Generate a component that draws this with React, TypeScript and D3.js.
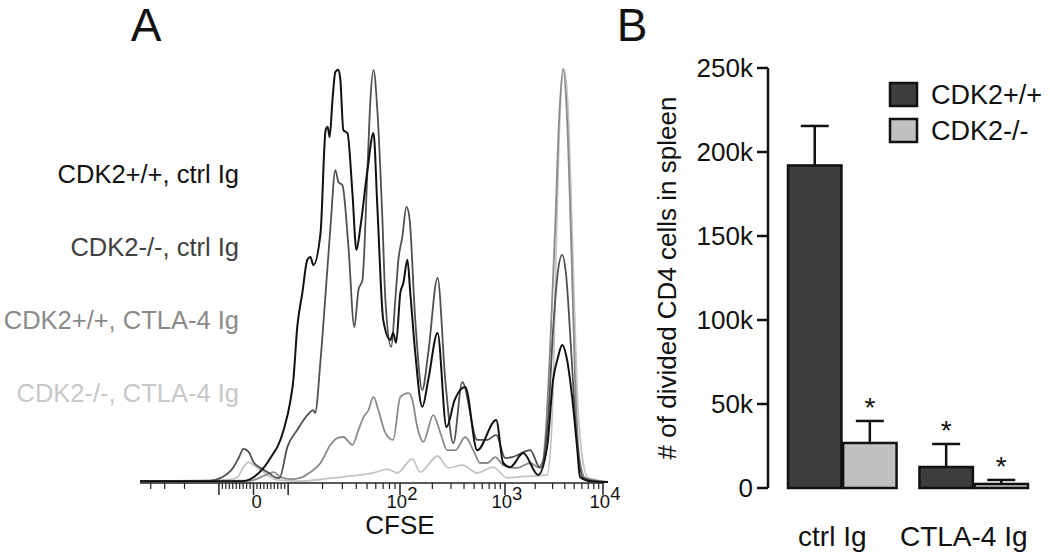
import * as d3 from "d3";
import React from "react";

const FONT = "'Liberation Sans', Arial, Helvetica, sans-serif";

// CFSE histograms: [CFSE intensity, % of max]
const wtCtrl: [number, number][] = [
  [-50, 0.2], [-3, 0.2], [-0.9, 0.7], [2.9, 3.4], [5.8, 7], [6.9, 8.5], [8.7, 12.6], [10.5, 19.9],
  [11.1, 24.7], [12, 37.5], [13.3, 45.8], [14.7, 53.8], [15.65, 54.5], [16.6, 52.5], [19.2, 60.3],
  [21.3, 85.2], [22.2, 86], [23.1, 83.5], [24.5, 92.5], [26, 99.3], [27.7, 99.8], [28.8, 97.3],
  [30.6, 85.2], [33.3, 84.5], [36.9, 70], [40.1, 56.2], [43.5, 61.7], [50.4, 75.5], [57.2, 84.5],
  [62, 66.6], [70.2, 39.2], [81.4, 34.4], [86.5, 36.1], [92, 33.7], [100.7, 45.8], [107.4, 48.2],
  [117, 53.8], [124.5, 45.8], [138.5, 31.2], [161, 18.2], [183, 24.7], [224, 36.1], [272, 13.3],
  [327, 20], [411, 23], [536, 7.7], [820, 15], [962, 4.6], [1125, 3.6], [1517, 7], [2142, 1.7],
  [2637, 8.5], [3034, 24.7], [3413, 30.3], [3753, 33.2], [4225, 29.5], [4754, 20.6], [5353, 8.5],
  [5745, 1.2], [7311, 0.2], [11300, 0],
];

const koCtrl: [number, number][] = [
  [-50, 0.2], [-12, 0.3], [-9.5, 1], [-5.8, 3.6], [-4.3, 5.8], [-2.9, 8], [-1.4, 7.3], [0, 4.8],
  [2, 3.4], [4, 2.4], [6.9, 1], [7.5, 1], [9.8, 8.5], [12, 12.6], [14.7, 16.2], [16.6, 17.4],
  [17.2, 16.7], [19.2, 29.5], [21.3, 45.8], [23.5, 61.7], [26, 75.5], [27.7, 72.6], [30, 71.9],
  [34, 56.9], [38.4, 37.5], [41.8, 46.5], [45.4, 48.9], [50.4, 75.5], [53.6, 92.5], [57.2, 99.8],
  [62, 90], [68.8, 64.2], [73.4, 44.1], [83, 32.7], [90.5, 44.1], [96.6, 53.8], [105, 59.3],
  [114.6, 66.6], [122, 64.2], [138.5, 39.2], [161, 22.3], [183, 31.2], [224, 49.4], [265, 24.7],
  [316, 9.4], [385, 24.2], [536, 10.2], [670, 10.2], [820, 11.4], [1006, 5.8], [1178, 6],
  [1778, 7.7], [2244, 3.4], [2693, 15], [3034, 36.8], [3413, 51.3], [3753, 55], [4124, 50.1],
  [4644, 32], [5225, 12.6], [6176, 1], [8241, 0.2], [11300, 0],
];

const wtCtla4: [number, number][] = [
  [-50, 0.2], [-1, 0.3], [3.5, 1.7], [5.8, 2.4], [7.8, 1.2], [10.5, 0.7], [12.8, 1], [15.65, 2.4],
  [19.2, 4.6], [23.5, 9], [27.2, 10.7], [30.6, 10.9], [36.9, 9], [41.8, 12.6], [46.5, 15.7],
  [51.5, 17.4], [57.2, 20.6], [63.3, 17.4], [73.4, 11.9], [86.5, 10.2], [100.7, 20.6], [119.4, 21.5],
  [130, 19.9], [144.5, 13.3], [164.6, 9.7], [204, 16.2], [238, 11.9], [277, 7.7], [331, 7.7],
  [411, 10.9], [491, 7.7], [573, 4.6], [670, 4.6], [802, 6], [962, 4.1], [1322, 3.4], [1778, 4.6],
  [2142, 3.6], [2403, 5.3], [2518, 10], [2825, 32], [3180, 61], [3494, 87.7], [3843, 100],
  [4225, 87.7], [4644, 58.6], [5105, 24.7], [5612, 6.5], [6482, 1], [9290, 0.2], [11300, 0],
];

const koCtla4: [number, number][] = [
  [-50, 0], [-7.5, 0.5], [-4.6, 1.2], [-2.9, 3.6], [-1.4, 4.8], [0, 4.1], [2, 2.9], [4, 1.7],
  [6.9, 0.5], [12.8, 0.2], [25, 1], [43.5, 1.7], [57.2, 2.2], [76.4, 3.1], [94.4, 2.2], [130, 5.6],
  [154, 2.4], [224, 6.3], [283, 3.4], [385, 4.1], [536, 2.2], [767, 3.6], [1052, 1], [1322, 1.2],
  [2093, 1.5], [2637, 1.7], [2961, 15], [3257, 56], [3580, 90], [3935, 100], [4325, 90],
  [4754, 61], [5353, 22.3], [6029, 6.5], [6969, 1], [11300, 0],
];

const histLabels = ["CDK2+/+, ctrl Ig", "CDK2-/-, ctrl Ig", "CDK2+/+, CTLA-4 Ig", "CDK2-/-, CTLA-4 Ig"];
const histColors = ["#111111", "#505050", "#8a8a8a", "#c4c4c4"];
const labelColors = ["#111111", "#404040", "#8a8a8a", "#c8c8c8"];

const majorTicks = [-10, 0, 10, 100, 1000, 10000];
const tickLabels: [number, string, string][] = [
  [0, "0", ""],
  [100, "10", "2"],
  [1000, "10", "3"],
  [10000, "10", "4"],
];

// bar chart
const groups = ["ctrl Ig", "CTLA-4 Ig"];
const genotypes = ["CDK2+/+", "CDK2-/-"];
const ctrlMeans = [192000, 26800];
const ctrlErrors = [23500, 13100];
const ctla4Means = [12500, 2400];
const ctla4Errors = [13700, 2400];
const ctrlStars = [false, true];
const ctla4Stars = [true, true];
const yTicks = [0, 50000, 100000, 150000, 200000, 250000];
const barFills = ["#3d3d3d", "#c0c0c0"];

// logicle-like display transform
function logicle(v: number) {
  const a = Math.abs(v);
  if (a <= 10) return v * 0.03;
  const L = Math.log10(a / 10);
  return Math.sign(v) * (0.3 + L - 0.03 * L * L);
}

const minorTicks: number[] = [];
[-40, -30, -20].forEach((v) => minorTicks.push(v));
for (let i = 1; i <= 9; i++) {
  minorTicks.push(-i, i);
}
[10, 100, 1000].forEach((dec) => {
  for (let m = 2; m <= 9; m++) minorTicks.push(m * dec);
});

export default function App() {
  const histX = d3.scaleLinear().domain([logicle(-50), logicle(10000)]).range([140, 603]);
  const histY = d3.scaleLinear().domain([0, 100]).range([482, 69]);
  const px = (v: number) => histX(logicle(v));
  const line = d3
    .line<[number, number]>()
    .x((d) => px(d[0]))
    .y((d) => histY(d[1]))
    .curve(d3.curveMonotoneX);
  const axisY = 483;

  const series = [koCtla4, wtCtla4, koCtrl, wtCtrl];
  const seriesColors = [histColors[3], histColors[2], histColors[1], histColors[0]];

  // bar scales
  const xOuter = d3.scaleBand().domain(groups).range([788, 1028]).paddingInner(0.174).paddingOuter(0);
  const xInner = d3.scaleBand().domain(genotypes).range([0, xOuter.bandwidth()]).paddingInner(0.03);
  const yBar = d3.scaleLinear().domain([0, 250000]).range([488, 68]);
  const barData = [
    { group: groups[0], means: ctrlMeans, errs: ctrlErrors, stars: ctrlStars },
    { group: groups[1], means: ctla4Means, errs: ctla4Errors, stars: ctla4Stars },
  ];
  const axisX = 768;

  return (
    <svg
      width={1050}
      height={552}
      style={{ position: "absolute", left: 0, top: 0, background: "#fff" }}
      fontFamily={FONT}
    >
      <rect width={1050} height={552} fill="#fff" />
      {/* panel letters */}
      <text x={146} y={41} fontSize={46} textAnchor="middle" fill="#111">A</text>
      <text x={632} y={41} fontSize={46} textAnchor="middle" fill="#111">B</text>

      {/* Panel A labels */}
      {histLabels.map((t, i) => (
        <text key={t} x={239} y={183 + i * 73} fontSize={25.5} textAnchor="end" fill={labelColors[i]}>
          {t}
        </text>
      ))}

      {/* histograms */}
      {series.map((s, i) => (
        <path key={i} d={line(s) || ""} fill="none" stroke={seriesColors[i]} strokeWidth={i === 3 ? 2 : 1.8} strokeLinejoin="round" />
      ))}

      {/* x axis */}
      <line x1={px(-50)} x2={px(10000)} y1={axisY} y2={axisY} stroke="#222" strokeWidth={1.5} />
      {majorTicks.map((v) => (
        <line key={"M" + v} x1={px(v)} x2={px(v)} y1={axisY} y2={axisY + 12} stroke="#222" strokeWidth={1.5} />
      ))}
      {minorTicks.map((v) => (
        <line key={"m" + v} x1={px(v)} x2={px(v)} y1={axisY} y2={axisY + 6} stroke="#222" strokeWidth={1.2} />
      ))}
      {tickLabels.map(([v, base, sup]) => (
        <text key={"l" + v} x={px(v) + (sup ? 2 : 3)} y={508} fontSize={18.5} textAnchor="middle" fill="#111">
          {base}
          {sup && (
            <tspan dy={-8} fontSize={18.5}>
              {sup}
            </tspan>
          )}
        </text>
      ))}
      <text x={400} y={534} fontSize={26} textAnchor="middle" fill="#111">CFSE</text>

      {/* Panel B axis */}
      <line x1={axisX} x2={axisX} y1={yBar(250000)} y2={yBar(0)} stroke="#111" strokeWidth={2.5} />
      {yTicks.map((t) => (
        <g key={t}>
          <line x1={axisX - 11} x2={axisX} y1={yBar(t)} y2={yBar(t)} stroke="#111" strokeWidth={2.5} />
          <text x={753} y={yBar(t)} dy="0.36em" fontSize={26} textAnchor="end" fill="#111">
            {t === 0 ? "0" : `${t / 1000}k`}
          </text>
        </g>
      ))}
      <text transform="translate(676,278) rotate(-90)" fontSize={26} textAnchor="middle" fill="#111">
        # of divided CD4 cells in spleen
      </text>

      {/* bars */}
      {barData.map((g) => (
        <g key={g.group}>
          {genotypes.map((gt, j) => {
            const x0 = (xOuter(g.group) || 0) + (xInner(gt) || 0);
            const w = xInner.bandwidth();
            const cx = x0 + w / 2;
            const top = yBar(g.means[j]);
            const errTop = yBar(g.means[j] + g.errs[j]);
            return (
              <g key={gt}>
                <line x1={cx} x2={cx} y1={top} y2={errTop} stroke="#111" strokeWidth={2.5} />
                <line x1={cx - 14} x2={cx + 14} y1={errTop} y2={errTop} stroke="#111" strokeWidth={2.5} />
                <rect x={x0} y={top} width={w} height={yBar(0) - top} fill={barFills[j]} stroke="#111" strokeWidth={2.5} />
                {g.stars[j] && (
                  <text x={cx} y={errTop - 4} fontSize={28} textAnchor="middle" fill="#111">*</text>
                )}
              </g>
            );
          })}
          <text
            x={(xOuter(g.group) || 0) + xOuter.bandwidth() / 2 - 10}
            y={546}
            fontSize={28}
            textAnchor="middle"
            fill="#111"
          >
            {g.group}
          </text>
        </g>
      ))}

      {/* legend */}
      {genotypes.map((gt, j) => (
        <g key={gt}>
          <rect x={890} y={83 + j * 36} width={27} height={23} fill={barFills[j]} stroke="#111" strokeWidth={2.5} />
          <text x={931} y={104 + j * 36} fontSize={27} fill="#111">
            {gt}
          </text>
        </g>
      ))}
    </svg>
  );
}
